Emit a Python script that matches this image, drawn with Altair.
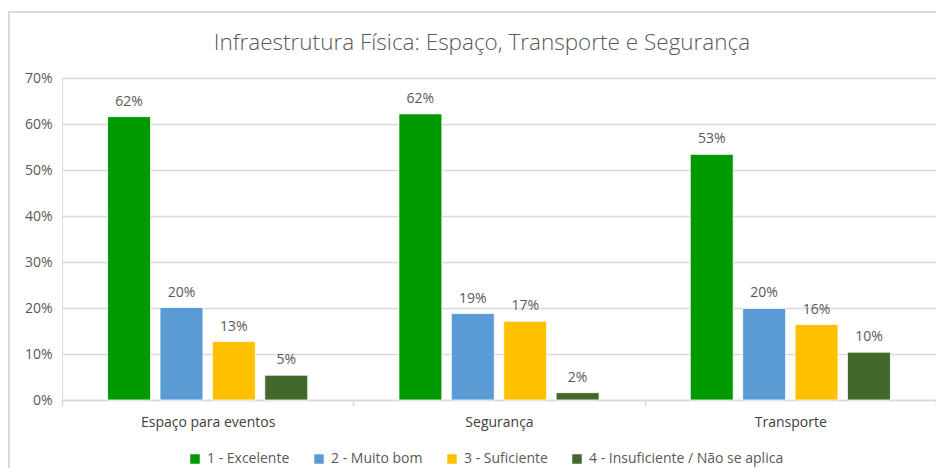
import altair as alt
import pandas as pd

categories = ["Espaço para eventos", "Segurança", "Transporte"]
series = ["1 - Excelente", "2 - Muito bom", "3 - Suficiente", "4 - Insuficiente / Não se aplica"]
excelente = [61.6, 62.2, 53.4]
muito_bom = [20.1, 18.8, 19.9]
suficiente = [12.7, 17.1, 16.4]
insuficiente = [5.4, 1.6, 10.4]
colors = ["#009900", "#5B9BD5", "#FFC000", "#43682B"]

rows = []
for s, vals in zip(series, [excelente, muito_bom, suficiente, insuficiente]):
    for c, v in zip(categories, vals):
        rows.append({"cat": c, "series": s, "value": v / 100})
df = pd.DataFrame(rows)

FONT = "Open Sans"
GRAY = "#595959"
LINE = "#D9D9D9"

x_enc = alt.X(
    "cat:N",
    sort=categories,
    title=None,
    scale=alt.Scale(paddingInner=0, paddingOuter=0),
    axis=alt.Axis(
        labelAngle=0, labelColor="#404040", labelFontSize=14, labelFont=FONT,
        labelPadding=9, domainColor=LINE, domainWidth=1.5, tickColor=LINE,
        tickSize=6, tickBand="extent", tickWidth=1.5, grid=False,
    ),
)
xo_enc = alt.XOffset("series:N", sort=series,
                     scale=alt.Scale(paddingInner=0.18, paddingOuter=0.87))
y_enc = alt.Y(
    "value:Q",
    title=None,
    scale=alt.Scale(domain=[0, 0.7], nice=False),
    axis=alt.Axis(
        format=".0%", values=[0, 0.1, 0.2, 0.3, 0.4, 0.5, 0.6, 0.7],
        labelColor=GRAY, labelFontSize=14, labelFont=FONT, labelPadding=10,
        ticks=False, tickSize=0, domain=False, gridColor=LINE, gridWidth=1.5,
    ),
)

bars = alt.Chart(df).mark_bar(stroke="white", strokeWidth=0.8).encode(
    x=x_enc,
    xOffset=xo_enc,
    y=y_enc,
    color=alt.Color(
        "series:N", sort=series,
        scale=alt.Scale(domain=series, range=colors),
        legend=alt.Legend(
            title=None, orient="none", direction="horizontal", columns=4,
            legendX=126, legendY=374, symbolType="square", symbolSize=90,
            symbolStrokeWidth=0, labelFont=FONT, labelFontSize=14,
            labelColor=GRAY, labelOffset=5, columnPadding=22, labelLimit=0,
        ),
    ),
)

labels = alt.Chart(df).mark_text(
    baseline="bottom", dy=-8, font=FONT, fontSize=14, color=GRAY
).encode(
    x=alt.X("cat:N", sort=categories),
    xOffset=alt.XOffset("series:N", sort=series),
    y=alt.Y("value:Q"),
    text=alt.Text("value:Q", format=".0%"),
)

frame = alt.Chart(df).mark_rect(fill=None, stroke=LINE, strokeWidth=2).encode(
    x=alt.value(-53), x2=alt.value(900), y=alt.value(-66), y2=alt.value(420)
)

chart = alt.layer(frame, bars, labels).properties(
    width=874,
    height=322,
    autosize=alt.AutoSizeParams(type="none"),
    padding={"left": 54, "top": 70, "right": 0, "bottom": 68},
    title=alt.Title(
        "Infraestrutura Física: Espaço, Transporte e Segurança",
        font=FONT, fontSize=22.5, fontWeight=300, color=GRAY,
        anchor="middle", dx=-17, offset=-61, baseline="alphabetic",
    ),
).configure_view(stroke=None).configure(background="white")

chart.save("out.html", embed_options={"renderer": "svg", "actions": False})
